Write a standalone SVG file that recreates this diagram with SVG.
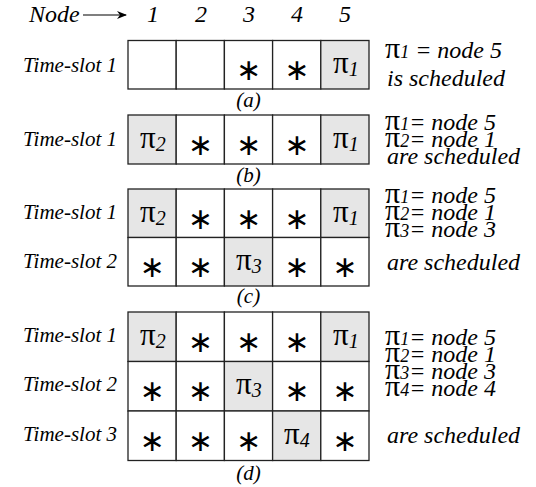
<svg xmlns="http://www.w3.org/2000/svg" width="536" height="487" viewBox="0 0 536 487">
<style>
.lbl{font-style:italic;font-size:21px;fill:#000}
.hdr{font-style:italic;font-size:24px;fill:#000}
.cap{font-style:italic;font-size:21px;fill:#000;text-anchor:middle}
.c{fill:#fff;stroke:#222;stroke-width:1.3}
.g{fill:#e6e6e6;stroke:#222;stroke-width:1.3}
.ast{font-size:30px;fill:#000;text-anchor:middle}
.pi{font-size:31px;fill:#000}
.sub{font-style:italic;font-size:20px}
.rt{font-style:italic;font-size:24px;fill:#000}
.rpi{font-size:30px;font-style:normal}
.rsub{font-style:italic;font-size:18px}
</style>
<defs>
<marker id="ah" markerWidth="10" markerHeight="8" refX="9" refY="4" orient="auto" markerUnits="userSpaceOnUse">
<path d="M0,0 L10,4 L0,8 L3,4 Z" fill="#000"/>
</marker>
</defs>

<g id="header">
<text class="hdr" style="font-family:'Liberation Serif',serif" x="29" y="22">Node</text>
<text class="hdr" style="font-family:'Liberation Serif',serif" x="153" y="22" text-anchor="middle">1</text>
<text class="hdr" style="font-family:'Liberation Serif',serif" x="201" y="22" text-anchor="middle">2</text>
<text class="hdr" style="font-family:'Liberation Serif',serif" x="249" y="22" text-anchor="middle">3</text>
<text class="hdr" style="font-family:'Liberation Serif',serif" x="297" y="22" text-anchor="middle">4</text>
<text class="hdr" style="font-family:'Liberation Serif',serif" x="345" y="22" text-anchor="middle">5</text>
</g>
<g id="connectors">
<line x1="83" y1="15" x2="126" y2="15" stroke="#000" stroke-width="1.2" marker-end="url(#ah)"/>
</g>

<g id="panel-a">
<text class="lbl" style="font-family:'Liberation Serif',serif" x="117" y="72" text-anchor="end">Time-slot 1</text>
<g id="a-r1">
<rect class="c" x="128" y="40.5" width="48.2" height="48.5"/>
<rect class="c" x="176.2" y="40.5" width="48.2" height="48.5"/>
<rect class="c" x="224.4" y="40.5" width="48.2" height="48.5"/>
<rect class="c" x="272.6" y="40.5" width="48.2" height="48.5"/>
<rect class="g" x="320.8" y="40.5" width="48.2" height="48.5"/>
<text class="ast" style="font-family:'DejaVu Sans',sans-serif" x="248.5" y="80">∗</text>
<text class="ast" style="font-family:'DejaVu Sans',sans-serif" x="296.7" y="80">∗</text>
<text class="pi" style="font-family:'Liberation Serif',serif" x="333" y="73">π<tspan class="sub" style="font-family:'Liberation Serif',serif" dy="3">1</tspan></text>
</g>
<text class="cap" style="font-family:'Liberation Serif',serif" x="248.5" y="107">(a)</text>
<g id="a-text">
<text class="rt" style="font-family:'Liberation Serif',serif" x="385" y="58"><tspan class="rpi" style="font-family:'Liberation Serif',serif">π</tspan><tspan class="rsub" style="font-family:'Liberation Serif',serif">1</tspan> = node 5</text>
<text class="rt" style="font-family:'Liberation Serif',serif" x="387" y="86">is scheduled</text>
</g>
</g>

<g id="panel-b">
<text class="lbl" style="font-family:'Liberation Serif',serif" x="117" y="146" text-anchor="end">Time-slot 1</text>
<g id="b-r1">
<rect class="g" x="128" y="115" width="48.2" height="49"/>
<rect class="c" x="176.2" y="115" width="48.2" height="49"/>
<rect class="c" x="224.4" y="115" width="48.2" height="49"/>
<rect class="c" x="272.6" y="115" width="48.2" height="49"/>
<rect class="g" x="320.8" y="115" width="48.2" height="49"/>
<text class="pi" style="font-family:'Liberation Serif',serif" x="140" y="148">π<tspan class="sub" style="font-family:'Liberation Serif',serif" dy="3">2</tspan></text>
<text class="ast" style="font-family:'DejaVu Sans',sans-serif" x="200.3" y="155">∗</text>
<text class="ast" style="font-family:'DejaVu Sans',sans-serif" x="248.5" y="155">∗</text>
<text class="ast" style="font-family:'DejaVu Sans',sans-serif" x="296.7" y="155">∗</text>
<text class="pi" style="font-family:'Liberation Serif',serif" x="333" y="148">π<tspan class="sub" style="font-family:'Liberation Serif',serif" dy="3">1</tspan></text>
</g>
<text class="cap" style="font-family:'Liberation Serif',serif" x="248.5" y="182">(b)</text>
<g id="b-text">
<text class="rt" style="font-family:'Liberation Serif',serif" x="385" y="130"><tspan class="rpi" style="font-family:'Liberation Serif',serif">π</tspan><tspan class="rsub" style="font-family:'Liberation Serif',serif">1</tspan>= node 5</text>
<text class="rt" style="font-family:'Liberation Serif',serif" x="385" y="147"><tspan class="rpi" style="font-family:'Liberation Serif',serif">π</tspan><tspan class="rsub" style="font-family:'Liberation Serif',serif">2</tspan>= node 1</text>
<text class="rt" style="font-family:'Liberation Serif',serif" x="387" y="164">are scheduled</text>
</g>
</g>

<g id="panel-c">
<text class="lbl" style="font-family:'Liberation Serif',serif" x="117" y="219" text-anchor="end">Time-slot 1</text>
<text class="lbl" style="font-family:'Liberation Serif',serif" x="117" y="268" text-anchor="end">Time-slot 2</text>
<g id="c-r1">
<rect class="g" x="128" y="189" width="48.2" height="48.5"/>
<rect class="c" x="176.2" y="189" width="48.2" height="48.5"/>
<rect class="c" x="224.4" y="189" width="48.2" height="48.5"/>
<rect class="c" x="272.6" y="189" width="48.2" height="48.5"/>
<rect class="g" x="320.8" y="189" width="48.2" height="48.5"/>
<text class="pi" style="font-family:'Liberation Serif',serif" x="140" y="222">π<tspan class="sub" style="font-family:'Liberation Serif',serif" dy="3">2</tspan></text>
<text class="ast" style="font-family:'DejaVu Sans',sans-serif" x="200.3" y="229">∗</text>
<text class="ast" style="font-family:'DejaVu Sans',sans-serif" x="248.5" y="229">∗</text>
<text class="ast" style="font-family:'DejaVu Sans',sans-serif" x="296.7" y="229">∗</text>
<text class="pi" style="font-family:'Liberation Serif',serif" x="333" y="222">π<tspan class="sub" style="font-family:'Liberation Serif',serif" dy="3">1</tspan></text>
</g>
<g id="c-r2">
<rect class="c" x="128" y="237.5" width="48.2" height="48.5"/>
<rect class="c" x="176.2" y="237.5" width="48.2" height="48.5"/>
<rect class="g" x="224.4" y="237.5" width="48.2" height="48.5"/>
<rect class="c" x="272.6" y="237.5" width="48.2" height="48.5"/>
<rect class="c" x="320.8" y="237.5" width="48.2" height="48.5"/>
<text class="ast" style="font-family:'DejaVu Sans',sans-serif" x="152.1" y="277">∗</text>
<text class="ast" style="font-family:'DejaVu Sans',sans-serif" x="200.3" y="277">∗</text>
<text class="pi" style="font-family:'Liberation Serif',serif" x="236" y="270">π<tspan class="sub" style="font-family:'Liberation Serif',serif" dy="3">3</tspan></text>
<text class="ast" style="font-family:'DejaVu Sans',sans-serif" x="296.7" y="277">∗</text>
<text class="ast" style="font-family:'DejaVu Sans',sans-serif" x="344.9" y="277">∗</text>
</g>
<text class="cap" style="font-family:'Liberation Serif',serif" x="248.5" y="303">(c)</text>
<g id="c-text">
<text class="rt" style="font-family:'Liberation Serif',serif" x="385" y="203"><tspan class="rpi" style="font-family:'Liberation Serif',serif">π</tspan><tspan class="rsub" style="font-family:'Liberation Serif',serif">1</tspan>= node 5</text>
<text class="rt" style="font-family:'Liberation Serif',serif" x="385" y="220"><tspan class="rpi" style="font-family:'Liberation Serif',serif">π</tspan><tspan class="rsub" style="font-family:'Liberation Serif',serif">2</tspan>= node 1</text>
<text class="rt" style="font-family:'Liberation Serif',serif" x="385" y="237"><tspan class="rpi" style="font-family:'Liberation Serif',serif">π</tspan><tspan class="rsub" style="font-family:'Liberation Serif',serif">3</tspan>= node 3</text>
<text class="rt" style="font-family:'Liberation Serif',serif" x="387" y="270">are scheduled</text>
</g>
</g>

<g id="panel-d">
<text class="lbl" style="font-family:'Liberation Serif',serif" x="117" y="342" text-anchor="end">Time-slot 1</text>
<text class="lbl" style="font-family:'Liberation Serif',serif" x="117" y="391" text-anchor="end">Time-slot 2</text>
<text class="lbl" style="font-family:'Liberation Serif',serif" x="117" y="441" text-anchor="end">Time-slot 3</text>
<g id="d-r1">
<rect class="g" x="128" y="312" width="48.2" height="49.5"/>
<rect class="c" x="176.2" y="312" width="48.2" height="49.5"/>
<rect class="c" x="224.4" y="312" width="48.2" height="49.5"/>
<rect class="c" x="272.6" y="312" width="48.2" height="49.5"/>
<rect class="g" x="320.8" y="312" width="48.2" height="49.5"/>
<text class="pi" style="font-family:'Liberation Serif',serif" x="140" y="345">π<tspan class="sub" style="font-family:'Liberation Serif',serif" dy="3">2</tspan></text>
<text class="ast" style="font-family:'DejaVu Sans',sans-serif" x="200.3" y="352">∗</text>
<text class="ast" style="font-family:'DejaVu Sans',sans-serif" x="248.5" y="352">∗</text>
<text class="ast" style="font-family:'DejaVu Sans',sans-serif" x="296.7" y="352">∗</text>
<text class="pi" style="font-family:'Liberation Serif',serif" x="333" y="345">π<tspan class="sub" style="font-family:'Liberation Serif',serif" dy="3">1</tspan></text>
</g>
<g id="d-r2">
<rect class="c" x="128" y="361.5" width="48.2" height="49.5"/>
<rect class="c" x="176.2" y="361.5" width="48.2" height="49.5"/>
<rect class="g" x="224.4" y="361.5" width="48.2" height="49.5"/>
<rect class="c" x="272.6" y="361.5" width="48.2" height="49.5"/>
<rect class="c" x="320.8" y="361.5" width="48.2" height="49.5"/>
<text class="ast" style="font-family:'DejaVu Sans',sans-serif" x="152.1" y="401">∗</text>
<text class="ast" style="font-family:'DejaVu Sans',sans-serif" x="200.3" y="401">∗</text>
<text class="pi" style="font-family:'Liberation Serif',serif" x="236" y="394">π<tspan class="sub" style="font-family:'Liberation Serif',serif" dy="3">3</tspan></text>
<text class="ast" style="font-family:'DejaVu Sans',sans-serif" x="296.7" y="401">∗</text>
<text class="ast" style="font-family:'DejaVu Sans',sans-serif" x="344.9" y="401">∗</text>
</g>
<g id="d-r3">
<rect class="c" x="128" y="411" width="48.2" height="49.5"/>
<rect class="c" x="176.2" y="411" width="48.2" height="49.5"/>
<rect class="c" x="224.4" y="411" width="48.2" height="49.5"/>
<rect class="g" x="272.6" y="411" width="48.2" height="49.5"/>
<rect class="c" x="320.8" y="411" width="48.2" height="49.5"/>
<text class="ast" style="font-family:'DejaVu Sans',sans-serif" x="152.1" y="451">∗</text>
<text class="ast" style="font-family:'DejaVu Sans',sans-serif" x="200.3" y="451">∗</text>
<text class="ast" style="font-family:'DejaVu Sans',sans-serif" x="248.5" y="451">∗</text>
<text class="pi" style="font-family:'Liberation Serif',serif" x="284" y="444">π<tspan class="sub" style="font-family:'Liberation Serif',serif" dy="3">4</tspan></text>
<text class="ast" style="font-family:'DejaVu Sans',sans-serif" x="344.9" y="451">∗</text>
</g>
<text class="cap" style="font-family:'Liberation Serif',serif" x="248.5" y="480">(d)</text>
<g id="d-text">
<text class="rt" style="font-family:'Liberation Serif',serif" x="385" y="345"><tspan class="rpi" style="font-family:'Liberation Serif',serif">π</tspan><tspan class="rsub" style="font-family:'Liberation Serif',serif">1</tspan>= node 5</text>
<text class="rt" style="font-family:'Liberation Serif',serif" x="385" y="362"><tspan class="rpi" style="font-family:'Liberation Serif',serif">π</tspan><tspan class="rsub" style="font-family:'Liberation Serif',serif">2</tspan>= node 1</text>
<text class="rt" style="font-family:'Liberation Serif',serif" x="385" y="379"><tspan class="rpi" style="font-family:'Liberation Serif',serif">π</tspan><tspan class="rsub" style="font-family:'Liberation Serif',serif">3</tspan>= node 3</text>
<text class="rt" style="font-family:'Liberation Serif',serif" x="385" y="396"><tspan class="rpi" style="font-family:'Liberation Serif',serif">π</tspan><tspan class="rsub" style="font-family:'Liberation Serif',serif">4</tspan>= node 4</text>
<text class="rt" style="font-family:'Liberation Serif',serif" x="387" y="443">are scheduled</text>
</g>
</g>
</svg>
